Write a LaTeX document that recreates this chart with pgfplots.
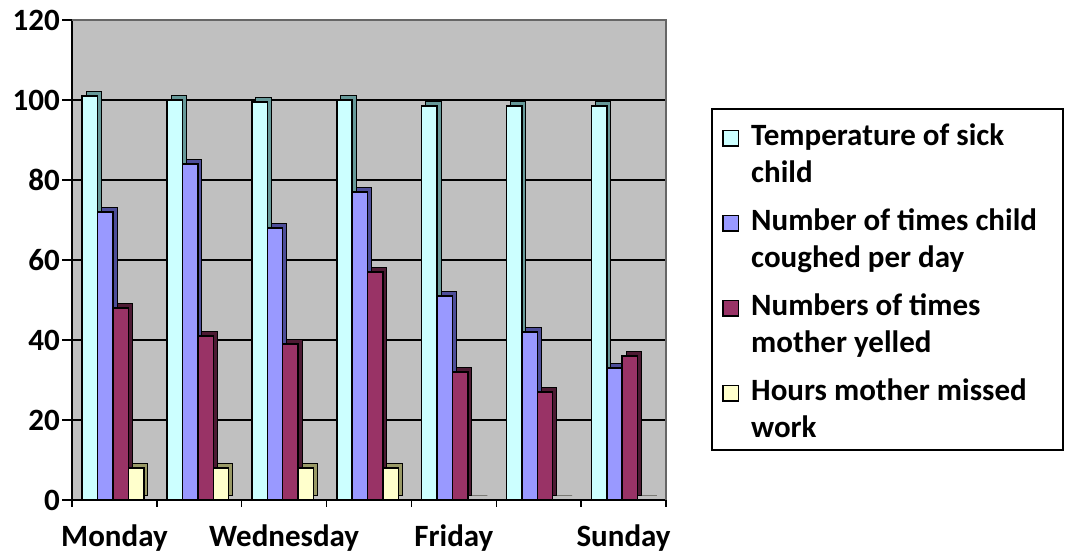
\documentclass[border=0pt]{standalone}
\usepackage{pgfplots}
\pgfplotsset{compat=1.18}
\usepackage{fontspec}
\setmainfont{Carlito}
\definecolor{tempc}{HTML}{CCFFFF}
\definecolor{tempd}{HTML}{669999}
\definecolor{coughc}{HTML}{9999FF}
\definecolor{coughd}{HTML}{4D4D99}
\definecolor{yellc}{HTML}{993366}
\definecolor{yelld}{HTML}{4D1A33}
\definecolor{hoursc}{HTML}{FFFFCC}
\definecolor{hoursd}{HTML}{999966}
\definecolor{bgc}{HTML}{C0C0C0}
\newcommand{\sq}[1]{{\setlength{\fboxrule}{1.5pt}\setlength{\fboxsep}{0pt}\fcolorbox{black}{#1}{\rule{0pt}{14pt}\rule{14pt}{0pt}}}}
\begin{document}
\begin{tikzpicture}[x=1pt,y=1pt]
\useasboundingbox (0,0) rectangle (1065,556);
\begin{axis}[
  at={(72pt,56pt)}, anchor=south west,
  scale only axis, width=594pt, height=480pt,
  xmin=-0.5, xmax=6.5, ymin=0, ymax=120,
  ybar, bar width=15.4pt,
  xtick={0,...,6}, xticklabels={Monday,,Wednesday,,Friday,,Sunday},
  minor xtick={-0.5,0.5,...,6.5},
  ytick={0,20,40,60,80,100,120},
  yticklabels={0,20,40,60,80,100,120},
  tick align=outside, major tick length=10pt, minor tick length=7pt,
  major x tick style={draw=none},
  tick style={black, line width=1.5pt},
  ymajorgrids, major grid style={black, line width=1.5pt},
  axis x line*=bottom, axis y line*=left,
  axis line style={black, line width=1.8pt, -},
  axis background/.style={fill=bgc},
  tick label style={font=\fontsize{31}{36}\selectfont\bfseries},
  yticklabel style={inner sep=2pt},
  xticklabel style={inner sep=0pt, yshift=-15pt},
  after end axis/.code={\draw[gray!80!black, line width=1.5pt] (rel axis cs:0,1) -- (rel axis cs:1,1) -- (rel axis cs:1,0);},
]
% Temperature
\addplot[forget plot, fill=tempd, draw=black, line width=1pt, bar shift=-24.5pt, xshift=4pt, yshift=4pt] coordinates {(0,101) (1,100) (2,99.5) (3,100) (4,98.5) (5,98.5) (6,98.5)};
\addplot[fill=tempc, draw=black, line width=1.5pt, bar shift=-24.5pt] coordinates {(0,101) (1,100) (2,99.5) (3,100) (4,98.5) (5,98.5) (6,98.5)};
% Cough
\addplot[forget plot, fill=coughd, draw=black, line width=1pt, bar shift=-9.1pt, xshift=4pt, yshift=4pt] coordinates {(0,72) (1,84) (2,68) (3,77) (4,51) (5,42) (6,33)};
\addplot[fill=coughc, draw=black, line width=1.5pt, bar shift=-9.1pt] coordinates {(0,72) (1,84) (2,68) (3,77) (4,51) (5,42) (6,33)};
% Yelled
\addplot[forget plot, fill=yelld, draw=black, line width=1pt, bar shift=6.3pt, xshift=4pt, yshift=4pt] coordinates {(0,48) (1,41) (2,39) (3,57) (4,32) (5,27) (6,36)};
\addplot[fill=yellc, draw=black, line width=1.5pt, bar shift=6.3pt] coordinates {(0,48) (1,41) (2,39) (3,57) (4,32) (5,27) (6,36)};
% Hours
\addplot[forget plot, fill=hoursd, draw=black, line width=1pt, bar shift=21.7pt, xshift=4pt, yshift=4pt] coordinates {(0,8) (1,8) (2,8) (3,8) (4,0) (5,0) (6,0)};
\addplot[fill=hoursc, draw=black, line width=1.5pt, bar shift=21.7pt] coordinates {(0,8) (1,8) (2,8) (3,8) (4,0) (5,0) (6,0)};
\end{axis}
\draw[black, line width=2pt] (712,447) rectangle (1063,106);
\node[anchor=north west, inner sep=0pt, font=\fontsize{31}{37}\selectfont\bfseries] at (722,437) {%
\begin{tabular}{@{}l@{\hspace{12pt}}l@{}}
\sq{tempc} & Temperature of sick\\
 & child\\[11pt]
\sq{coughc} & Number of times child\\
 & coughed per day\\[11pt]
\sq{yellc} & Numbers of times\\
 & mother yelled\\[11pt]
\sq{hoursc} & Hours mother missed\\
 & work
\end{tabular}};
\end{tikzpicture}
\end{document}
